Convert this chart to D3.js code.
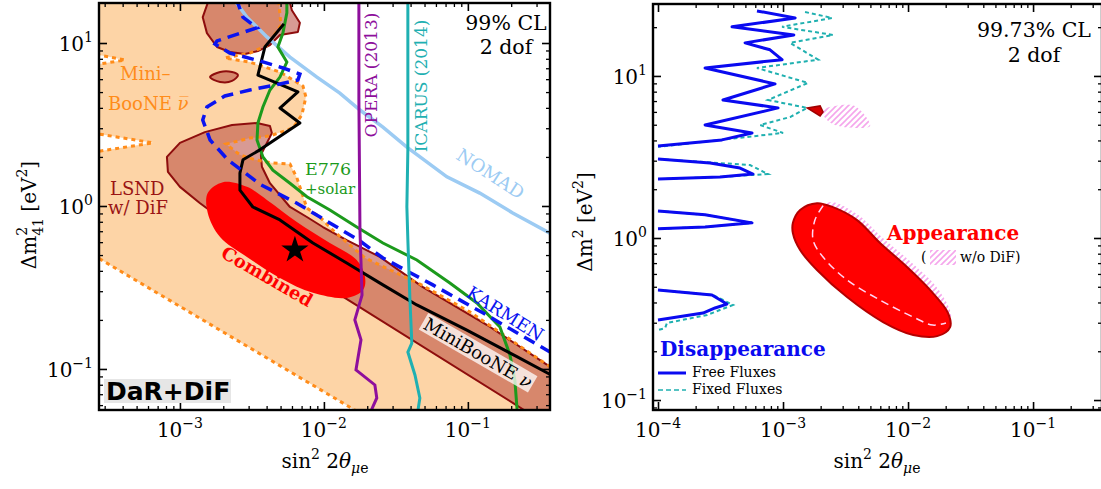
<!DOCTYPE html>
<html><head><meta charset="utf-8">
<script src="https://cdn.jsdelivr.net/npm/d3@7"></script>
<style>body{margin:0;background:#fff} svg{display:block} text{font-family:'DejaVu Serif',serif}</style>
</head><body><script>
// ---------------- LEFT PANEL DATA  [sin^2 2theta, dm2] ----------------
const minibooneNubar = [[2.5e-4,20],[4.8e-3,20],[5.03e-3,12.9],[4.08e-3,9.72],[3.06e-3,8.68],[2.05e-3,8.09],[3.06e-3,7.64],[4.95e-3,6.64],[7.15e-3,5.45],[7.50e-3,4.67],[7.03e-3,3.62],[6.09e-3,3.01],[4.22e-3,2.69],[3.06e-3,2.61],[2.09e-3,2.40],[2.61e-3,2.06],[3.32e-3,1.92],[4.35e-3,1.84],[5.81e-3,1.81],[6.49e-3,1.49],[7.62e-3,0.972],[9.38e-3,0.856],[1.19e-2,0.692],[1.93e-2,0.480],[4.64e-2,0.332],[0.103,0.224],[0.402,0.0986],[0.402,0.05],[1.87e-2,0.0522],[2.5e-4,0.50],[2.5e-4,2.14],[6.49e-4,2.44],[2.5e-4,2.80],[2.5e-4,7.33],[4.15e-4,7.87],[2.5e-4,8.56]];
const lsndTop = [[1.44e-3,14.4],[1.64e-3,20],[5.62e-3,20],[5.99e-3,15.9],[6.81e-3,13.3],[6.60e-3,11.7],[4.95e-3,11.2],[4.22e-3,9.72],[3.48e-3,8.93],[2.83e-3,8.56],[2.22e-3,8.81],[1.81e-3,9.45],[1.54e-3,11.5]];
const lsndSmall = [[1.62e-3,6.18],[1.90e-3,6.64],[2.30e-3,6.64],[2.53e-3,6.36],[2.30e-3,5.85],[1.90e-3,5.77]];
const lsndBand = [[8.12e-4,2.00],[1.00e-3,2.44],[1.49e-3,2.84],[2.30e-3,3.14],[3.43e-3,3.23],[4.22e-3,3.10],[4.35e-3,2.80],[3.89e-3,2.30],[3.65e-3,2.06],[3.71e-3,1.74],[4.22e-3,1.38],[5.81e-3,0.986],[7.62e-3,0.856],[9.84e-3,0.743],[1.44e-2,0.618],[2.45e-2,0.487],[4.87e-2,0.318],[0.136,0.186],[0.402,0.0986],[0.402,0.0522],[0.278,0.0522],[0.205,0.0619],[1.23e-2,0.293],[3.06e-3,0.618],[1.38e-3,1.04],[1.00e-3,1.31],[8.25e-4,1.62]];
const combined = [[1.56e-3,1.20],[1.99e-3,1.40],[2.92e-3,1.31],[4.02e-3,1.09],[6.49e-3,0.798],[1.10e-2,0.593],[1.69e-2,0.466],[1.93e-2,0.367],[1.87e-2,0.305],[1.44e-2,0.273],[8.39e-3,0.293],[4.95e-3,0.362],[2.92e-3,0.487],[1.90e-3,0.645],[1.56e-3,0.906]];
const bestFit = [[6.29e-3,0.537]];
const minibooneNu = [[5.27e-3,13.1],[3.89e-3,9.45],[3.48e-3,6.36],[6.60e-3,5.01],[4.95e-3,3.99],[6.81e-3,3.23],[3.59e-3,2.21],[2.74e-3,1.92],[2.61e-3,1.59],[2.61e-3,1.25],[3.21e-3,0.986],[4.95e-3,0.821],[8.39e-3,0.593],[1.44e-2,0.447],[2.57e-2,0.328],[4.42e-2,0.247],[9.84e-2,0.173],[0.219,0.119],[0.402,0.0893]];
const karmen = [[2.45e-3,18.9],[2.74e-3,14.4],[3.43e-3,12.4],[1.81e-3,10.3],[1.75e-3,9.86],[2.22e-3,8.68],[3.59e-3,7.76],[5.19e-3,7.03],[6.81e-3,6.45],[6.60e-3,5.93],[4.95e-3,5.60],[3.06e-3,5.15],[2.05e-3,4.73],[1.54e-3,4.05],[1.44e-3,3.37],[1.62e-3,2.54],[2.15e-3,1.92],[3.59e-3,1.36],[6.49e-3,1.04],[1.10e-2,0.787],[1.78e-2,0.610],[2.57e-2,0.480],[5.71e-2,0.328],[0.127,0.221],[0.402,0.122]];
const e776 = [[5.53e-3,20],[5.53e-3,15.3],[5.19e-3,11.5],[4.79e-3,9.45],[5.53e-3,7.64],[4.95e-3,6.18],[4.22e-3,5.15],[3.77e-3,4.05],[3.48e-3,3.23],[3.43e-3,2.54],[3.77e-3,2.00],[4.42e-3,1.66],[5.81e-3,1.38],[7.62e-3,1.14],[1.10e-2,0.945],[1.69e-2,0.743],[2.57e-2,0.593],[4.42e-2,0.466],[7.50e-2,0.337],[0.1155,0.254],[0.167,0.181],[0.196,0.122],[0.212,0.0857],[0.222,0.05]];
const nomad = [[2.33e-3,18.9],[2.92e-3,14.4],[4.02e-3,10.9],[5.81e-3,8.20],[8.94e-3,6.18],[1.29e-2,4.93],[1.78e-2,3.88],[2.57e-2,3.05],[3.77e-2,2.30],[7.15e-2,1.51],[0.121,1.20],[0.205,0.906],[0.402,0.655]];
const opera = [[1.75e-2,20],[1.75e-2,4.47],[1.78e-2,0.713],[1.84e-2,0.284],[1.64e-2,0.200],[1.81e-2,0.151],[1.67e-2,0.0986],[2.26e-2,0.0798],[2.33e-2,0.0664],[2.02e-2,0.05]];
const icarus = [[3.83e-2,20],[3.83e-2,2.21],[3.77e-2,0.986],[3.83e-2,0.618],[3.96e-2,0.265],[4.08e-2,0.144],[3.83e-2,0.127],[4.29e-2,0.0919],[4.64e-2,0.0664],[4.42e-2,0.05]];

// ---------------- RIGHT PANEL DATA ----------------
const freeFluxes = [
  [[6.19e-4,25.2],[1.25e-3,22.8],[3.91e-4,20.1],[1.22e-3,17.9],[4.97e-4,16.0],[7.87e-4,14.5],[9.82e-4,12.6],[2.38e-4,11.2],[8.63e-4,8.93],[3.31e-4,7.11],[9.12e-4,6.35],[2.38e-4,4.98],[5.65e-4,4.45],[3.25e-4,4.03],[1e-4,3.70]],
  [[1e-4,3.07],[2.61e-4,2.90],[4.53e-4,2.70],[5.75e-4,2.48],[3.13e-4,2.38],[1e-4,2.31]],
  [[1e-4,1.47],[2.38e-4,1.39],[5.65e-4,1.24],[2.38e-4,1.17],[1e-4,1.14]],
  [[1e-4,0.478],[2.70e-4,0.445],[3.56e-4,0.391],[2.86e-4,0.370],[2.29e-4,0.344],[1e-4,0.312]]
];
const fixedFluxes = [
  [[1.50e-3,24.8],[2.47e-3,22.8],[9.82e-4,20.1],[2.51e-3,17.9],[1.14e-3,16.0],[1.91e-3,12.6],[6.19e-4,11.2],[1.58e-3,9.06],[7.59e-4,7.11],[1.56e-3,6.35],[1.14e-3,5.58],[6.55e-4,4.98],[1.00e-3,4.45],[1e-4,3.65]],
  [[1e-4,3.07],[5.45e-4,2.82],[7.59e-4,2.48],[5.75e-4,2.45],[3.13e-4,2.38],[1e-4,2.31]],
  [[1e-4,1.47],[2.38e-4,1.39],[5.65e-4,1.24],[2.38e-4,1.17],[1e-4,1.14]],
  [[1e-4,0.478],[2.75e-4,0.445],[3.98e-4,0.386],[2.47e-4,0.335],[1.18e-4,0.299],[1.14e-4,0.278],[1e-4,0.270]]
];
const appearance = [[1.20e-3,1.24],[1.37e-3,1.49],[1.87e-3,1.64],[2.51e-3,1.55],[3.91e-3,1.29],[5.97e-3,0.931],[9.82e-3,0.662],[1.50e-2,0.478],[2.09e-2,0.344],[2.17e-2,0.282],[1.71e-2,0.248],[1.10e-2,0.252],[6.31e-3,0.303],[3.25e-3,0.432],[1.87e-3,0.634],[1.37e-3,0.843],[1.20e-3,1.07]];
const appearanceSmall = [[1.56e-3,6.35],[1.98e-3,6.53],[2.09e-3,6.00],[1.98e-3,5.66]];
const noDiF = [[2.09e-3,1.58],[2.47e-3,1.67],[3.98e-3,1.39],[6.19e-3,1.01],[1.10e-2,0.691],[1.74e-2,0.484],[2.21e-2,0.330],[2.01e-2,0.299],[1.58e-2,0.290],[1.10e-2,0.325],[5.97e-3,0.414],[3.25e-3,0.551],[2.09e-3,0.763],[1.74e-3,0.972],[1.80e-3,1.29]];
const noDiFSmall = [[2.09e-3,6.17],[2.61e-3,6.53],[3.56e-3,6.62],[4.29e-3,6.00],[4.97e-3,4.91],[3.77e-3,4.78],[2.61e-3,4.98],[2.17e-3,5.51]];

// ---------------- AXES ----------------
const xDomL = [2.74e-4, 0.372], yDomL = [0.056, 17.6];
const xDomR = [9.12e-5, 0.356], yDomR = [0.0868, 27.8];
const xMajL = [1e-3, 1e-2, 1e-1], xLabL = ['\u22123','\u22122','\u22121'];
const yMaj = [0.1, 1, 10], yLab = ['\u22121','0','1'];
const xMajR = [1e-4, 1e-3, 1e-2, 1e-1], xLabR = ['\u22124','\u22123','\u22122','\u22121'];

const W = 1101, H = 489;
const svg = d3.select('body').append('svg').attr('width', W).attr('height', H);
const defs = svg.append('defs');
const pat = defs.append('pattern').attr('id','hatch').attr('patternUnits','userSpaceOnUse').attr('width',6).attr('height',6);
pat.append('path').attr('d','M0,6L6,0M-1,1L1,-1M5,7L7,5').attr('stroke','#f5a6ec').attr('stroke-width',1.6);

const L = {x0:99, x1:550, y0:3, y1:410};
const R = {x0:653, x1:1102, y0:4, y1:410};
defs.append('clipPath').attr('id','clipL').append('rect').attr('x',L.x0).attr('y',L.y0).attr('width',L.x1-L.x0).attr('height',L.y1-L.y0);
defs.append('clipPath').attr('id','clipR').append('rect').attr('x',R.x0).attr('y',R.y0).attr('width',R.x1-R.x0).attr('height',R.y1-R.y0);

const xL = d3.scaleLog().domain(xDomL).range([L.x0, L.x1]);
const yL = d3.scaleLog().domain(yDomL).range([L.y1, L.y0]);
const xR = d3.scaleLog().domain(xDomR).range([R.x0, R.x1]);
const yR = d3.scaleLog().domain(yDomR).range([R.y1, R.y0]);

const lineL = d3.line().x(d=>xL(d[0])).y(d=>yL(d[1]));
const polyL = d3.line().x(d=>xL(d[0])).y(d=>yL(d[1])).curve(d3.curveLinearClosed);
const smoothL = d3.line().x(d=>xL(d[0])).y(d=>yL(d[1])).curve(d3.curveCatmullRomClosed.alpha(0.5));
const lineR = d3.line().x(d=>xR(d[0])).y(d=>yR(d[1]));
const smoothR = d3.line().x(d=>xR(d[0])).y(d=>yR(d[1])).curve(d3.curveCatmullRomClosed.alpha(0.5));
const smoothOpenR = d3.line().x(d=>xR(d[0])).y(d=>yR(d[1])).curve(d3.curveCatmullRom.alpha(0.5));

// ---------- left plot ----------
const gL = svg.append('g').attr('clip-path','url(#clipL)');
gL.append('path').attr('d', polyL(minibooneNubar)).attr('fill','#fdd4a6');
const lsndStyle = s => s.attr('fill','#b8473d').attr('fill-opacity',0.55).attr('stroke','#8e0d0d').attr('stroke-width',2).attr('stroke-linejoin','round');
gL.append('path').attr('d', polyL(lsndTop)).call(lsndStyle);
gL.append('path').attr('d', smoothL(lsndSmall)).call(lsndStyle);
gL.append('path').attr('d', polyL(lsndBand)).call(lsndStyle);
gL.append('path').attr('d', polyL(minibooneNubar)).attr('fill','none').attr('stroke','#ff8c1a').attr('stroke-width',3).attr('stroke-dasharray','4,4');
gL.append('path').attr('d', smoothL(combined)).attr('fill','#ff0000');
gL.append('path').attr('d', lineL(nomad)).attr('fill','none').attr('stroke','#9ccbf3').attr('stroke-width',3.5);
gL.append('path').attr('d', lineL(e776)).attr('fill','none').attr('stroke','#1c9a1c').attr('stroke-width',3);
gL.append('path').attr('d', lineL(minibooneNu)).attr('fill','none').attr('stroke','#000').attr('stroke-width',3).attr('stroke-linejoin','round');
gL.append('path').attr('d', lineL(karmen)).attr('fill','none').attr('stroke','#0a14f0').attr('stroke-width',3.5).attr('stroke-dasharray','12,7');
gL.append('path').attr('d', lineL(opera)).attr('fill','none').attr('stroke','#8e0f9c').attr('stroke-width',3);
gL.append('path').attr('d', lineL(icarus)).attr('fill','none').attr('stroke','#1fb0b2').attr('stroke-width',3);
gL.selectAll('.star').data(bestFit).join('path').attr('class','star')
  .attr('d', d3.symbol(d3.symbolStar, 230)).attr('transform', d=>`translate(${xL(d[0])},${yL(d[1])})`).attr('fill','#000');

// ---------- right plot ----------
const gR = svg.append('g').attr('clip-path','url(#clipR)');
gR.append('path').attr('d', smoothR(noDiF)).attr('fill','url(#hatch)');
gR.append('path').attr('d', smoothR(noDiFSmall)).attr('fill','url(#hatch)');
gR.append('path').attr('d', smoothR(appearance)).attr('fill','#ff0000').attr('stroke','#b50000').attr('stroke-width',2);
gR.append('path').attr('d', d3.line().x(d=>xR(d[0])).y(d=>yR(d[1])).curve(d3.curveLinearClosed)(appearanceSmall)).attr('fill','#d40000').attr('stroke','#a00000').attr('stroke-width',1.5);
const dashedPart = [noDiF[0]].concat(noDiF.slice(7).reverse());
gR.append('path').attr('d', smoothOpenR(dashedPart)).attr('fill','none').attr('stroke','#ffd6f4').attr('stroke-width',1.5).attr('stroke-dasharray','8,5');
fixedFluxes.forEach(s => gR.append('path').attr('d', lineR(s)).attr('fill','none').attr('stroke','#1fb0b0').attr('stroke-width',2).attr('stroke-dasharray','4,3'));
freeFluxes.forEach(s => gR.append('path').attr('d', lineR(s)).attr('fill','none').attr('stroke','#0a0af0').attr('stroke-width',3).attr('stroke-linejoin','round'));

// ---------- axes ----------
function minors(scale){
  const [a,b] = scale.domain(); const out = [];
  for (let e = Math.floor(Math.log10(a)); e <= Math.ceil(Math.log10(b)); e++)
    for (let k = 2; k <= 9; k++) { const v = k * Math.pow(10, e); if (v >= a && v <= b) out.push(v); }
  return out;
}
function axes(P, x, y, xMaj, xLab, yMajV, yLabV){
  const g = svg.append('g');
  const mk = (axis, tr, vals, size, sw) => g.append('g').attr('transform', tr)
    .call(axis.tickValues(vals).tickSize(size).tickSizeOuter(0).tickFormat(()=>''))
    .call(s => { s.select('.domain').remove(); s.selectAll('line').attr('stroke-width', sw); });
  [[xMaj,-8,1.6],[minors(x),-4,1.3]].forEach(([v,s,w]) => {
    mk(d3.axisBottom(x), `translate(0,${P.y1})`, v, s, w);
    mk(d3.axisTop(x), `translate(0,${P.y0})`, v, s, w);
  });
  [[yMajV,-8,1.6],[minors(y),-4,1.3]].forEach(([v,s,w]) => {
    mk(d3.axisLeft(y), `translate(${P.x0},0)`, v, s, w);
    mk(d3.axisRight(y), `translate(${P.x1},0)`, v, s, w);
  });
  g.append('rect').attr('x',P.x0).attr('y',P.y0).attr('width',P.x1-P.x0).attr('height',P.y1-P.y0)
    .attr('fill','none').attr('stroke','#000').attr('stroke-width',2.4);
  xMaj.forEach((v,i) => {
    const t = g.append('text').attr('x', x(v)).attr('y', P.y1+27).attr('text-anchor','middle').attr('font-size',20).text('10');
    t.append('tspan').attr('dy',-9).attr('font-size',14).text(xLab[i]);
  });
  yMajV.forEach((v,i) => {
    const t = g.append('text').attr('x', P.x0-6).attr('y', y(v)+8).attr('text-anchor','end').attr('font-size',20).text('10');
    t.append('tspan').attr('dy',-9).attr('font-size',14).text(yLabV[i]);
  });
}
axes(L, xL, yL, xMajL, xLabL, yMaj, yLab);
axes(R, xR, yR, xMajR, xLabR, yMaj, yLab);

// ---------- labels ----------
function txt(x, y, s, o={}){
  const t = svg.append('text').attr('x',x).attr('y',y).text(s)
    .attr('font-size', o.size||18).attr('fill', o.color||'#000')
    .attr('text-anchor', o.anchor||'start').attr('font-weight', o.weight||'normal');
  if (o.rot !== undefined) t.attr('transform', `rotate(${o.rot},${x},${y})`);
  if (o.family) t.style('font-family', o.family);
  return t;
}
function xTitle(cx){
  const t = txt(cx, 468, 'sin', {size:20, anchor:'middle'});
  t.append('tspan').attr('dy',-9).attr('font-size',14).text('2');
  t.append('tspan').attr('dy',9).text(' 2');
  t.append('tspan').attr('font-style','italic').text('\u03b8');
  t.append('tspan').attr('dy',5).attr('font-size',14).attr('font-style','italic').text('\u03bc');
  t.append('tspan').attr('font-size',14).text('e');
}
xTitle(325); xTitle(877);
{
  const t = txt(36, 215, '\u0394m', {size:20, anchor:'middle', rot:-90});
  t.append('tspan').attr('dy',-9).attr('font-size',14).text('2');
  t.append('tspan').attr('dx',-9).attr('dy',16).attr('font-size',14).text('41');
  t.append('tspan').attr('dy',-7).text(' [eV');
  t.append('tspan').attr('dy',-9).attr('font-size',14).text('2');
  t.append('tspan').attr('dy',9).text(']');
}
{
  const t = txt(592, 222, '\u0394m', {size:20, anchor:'middle', rot:-90});
  t.append('tspan').attr('dy',-9).attr('font-size',14).text('2');
  t.append('tspan').attr('dy',9).text(' [eV');
  t.append('tspan').attr('dy',-9).attr('font-size',14).text('2');
  t.append('tspan').attr('dy',9).text(']');
}
// left annotations
txt(506, 30, '99% CL', {size:20.5, anchor:'middle'});
txt(506, 54, '2 dof', {size:20.5, anchor:'middle'});
txt(120, 80, 'Mini\u2013', {color:'#ff8c1a'});
{
  const t = txt(108, 110, 'BooNE ', {color:'#ff8c1a'});
  t.append('tspan').attr('font-style','italic').text('\u03bd\u0305');
}
txt(110, 195, 'LSND', {color:'#9a1414'});
txt(108, 214, 'w/ DiF', {color:'#9a1414'});
txt(264, 282, 'Combined', {color:'#ff0000', weight:'bold', anchor:'middle', rot:30});
txt(305, 175, 'E776', {color:'#1c9a1c', size:17.5});
txt(305, 194, '+solar', {color:'#1c9a1c', size:15});
txt(377, 75, 'OPERA (2013)', {color:'#8e0f9c', size:17, anchor:'middle', rot:-90});
txt(427, 86, 'ICARUS (2014)', {color:'#1fb0b2', size:17, anchor:'middle', rot:-90});
txt(487, 179, 'NOMAD', {color:'#9ccbf3', anchor:'middle', rot:33});
txt(502, 319, 'KARMEN', {color:'#0a14f0', anchor:'middle', rot:32});
{
  const g = svg.append('g').attr('transform','translate(478,353) rotate(30)');
  const t = g.append('text').attr('text-anchor','middle').attr('dy','0.35em').attr('font-size',18).text('MiniBooNE ');
  t.append('tspan').attr('font-style','italic').text('\u03bd');
  const bb = t.node().getBBox();
  g.insert('rect','text').attr('x',bb.x-2).attr('y',bb.y+1).attr('width',bb.width+4).attr('height',bb.height-2).attr('fill','#fff').attr('fill-opacity',0.75);
}
svg.append('rect').attr('x',104).attr('y',379).attr('width',127).attr('height',24).attr('fill','#e6e6e6');
txt(106, 400, 'DaR+DiF', {size:25, weight:'bold', family:"'DejaVu Sans', sans-serif"});

// right annotations
txt(1034, 37, '99.73% CL', {size:20.5, anchor:'middle'});
txt(1034, 62, '2 dof', {size:20.5, anchor:'middle'});
txt(887, 240, 'Appearance', {size:20, weight:'bold', color:'#ff0000'});
txt(921, 262, '(', {size:14});
svg.append('rect').attr('x',930).attr('y',250).attr('width',26).attr('height',15).attr('fill','url(#hatch)');
txt(960, 262, 'w/o DiF)', {size:14});
txt(660, 356, 'Disappearance', {size:20, weight:'bold', color:'#0a0af0'});
svg.append('line').attr('x1',658).attr('x2',686).attr('y1',373).attr('y2',373).attr('stroke','#0a0af0').attr('stroke-width',3);
txt(692, 377, 'Free Fluxes', {size:14});
svg.append('line').attr('x1',658).attr('x2',686).attr('y1',390).attr('y2',390).attr('stroke','#1fb0b0').attr('stroke-width',1.5).attr('stroke-dasharray','5,3');
txt(692, 394, 'Fixed Fluxes', {size:14});
</script></body></html>
